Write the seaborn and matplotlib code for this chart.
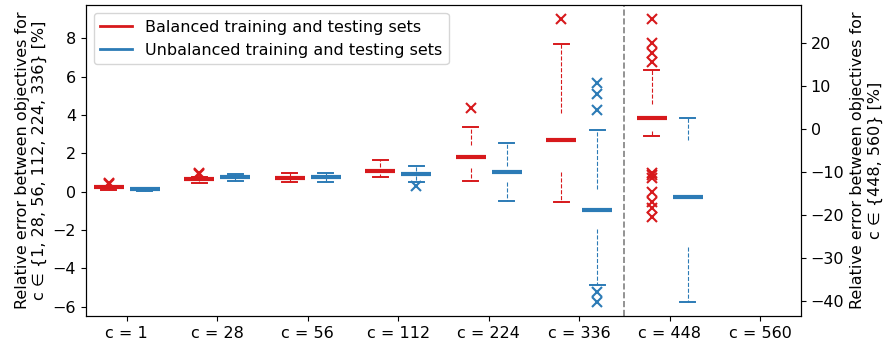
import numpy as np
import pandas as pd
import matplotlib
matplotlib.use("Agg")
import matplotlib.pyplot as plt
from matplotlib.lines import Line2D
import seaborn as sns

# ---------------- data ----------------
all_categories = ["c = 1", "c = 28", "c = 56", "c = 112", "c = 224", "c = 336", "c = 448", "c = 560"]
left_categories = ["c = 1", "c = 28", "c = 56", "c = 112", "c = 224", "c = 336"]
right_categories = ["c = 448"]

series_names = ["Balanced training and testing sets", "Unbalanced training and testing sets"]

# Balanced, left axis (c = 1 .. 336)
bal_left_whislo = [0.10, 0.45, 0.49, 0.75, 0.56, -0.52]
bal_left_q1 = [0.18, 0.57, 0.65, 0.92, 1.22, 1.04]
bal_left_med = [0.22, 0.65, 0.73, 1.06, 1.79, 2.70]
bal_left_q3 = [0.26, 0.71, 0.82, 1.30, 2.44, 4.09]
bal_left_whishi = [0.32, 0.78, 0.99, 1.67, 3.39, 7.72]
bal_left_fliers_lo = [[], [], [], [], [], []]
bal_left_fliers_hi = [[0.40, 0.43], [0.93, 0.96], [], [], [4.38], [8.99]]

# Unbalanced, left axis
unb_left_whislo = [0.06, 0.56, 0.49, 0.50, -0.49, -4.87]
unb_left_q1 = [0.10, 0.70, 0.70, 0.80, 0.52, -1.96]
unb_left_med = [0.13, 0.75, 0.77, 0.91, 1.01, -0.95]
unb_left_q3 = [0.16, 0.80, 0.85, 1.10, 1.36, 0.12]
unb_left_whishi = [0.20, 0.91, 0.96, 1.36, 2.52, 3.22]
unb_left_fliers_lo = [[], [], [], [0.30], [], [-5.25, -5.75]]
unb_left_fliers_hi = [[], [], [], [], [], [4.27, 5.10, 5.65]]

# Balanced, right axis (c = 448)
bal_right_whislo = [-1.5]
bal_right_q1 = [-0.5]
bal_right_med = [2.54]
bal_right_q3 = [5.8]
bal_right_whishi = [13.8]
bal_right_fliers_lo = [[-10.2, -10.7, -11.4, -14.6, -16.9, -18.4, -20.4]]
bal_right_fliers_hi = [[15.7, 17.7, 20.0, 25.6]]

# Unbalanced, right axis (c = 448)
unb_right_whislo = [-40.2]
unb_right_q1 = [-27.4]
unb_right_med = [-15.86]
unb_right_q3 = [-2.5]
unb_right_whishi = [2.54]
unb_right_fliers_lo = [[]]
unb_right_fliers_hi = [[]]

RED = "#d7191c"
BLUE = "#2c7bb6"


def samples_from_summary(lo, q1, med, q3, hi, flo, fhi):
    """Sample set whose box-plot statistics equal the read summary values."""
    a, b = len(flo), len(fhi)
    m = max(a, b) + 1
    vals = (list(flo) + [lo] + [q1] * (m - a) + [med] * m
            + [q3] * (2 * m - b - 1) + [hi] + list(fhi))
    return vals


def build_frame(cats, name, lo, q1, med, q3, hi, flo, fhi):
    rows = []
    for i, c in enumerate(cats):
        for v in samples_from_summary(lo[i], q1[i], med[i], q3[i], hi[i], flo[i], fhi[i]):
            rows.append({"cat": c, "series": name, "value": v})
    return rows


left_df = pd.DataFrame(
    build_frame(left_categories, series_names[0], bal_left_whislo, bal_left_q1, bal_left_med,
                bal_left_q3, bal_left_whishi, bal_left_fliers_lo, bal_left_fliers_hi)
    + build_frame(left_categories, series_names[1], unb_left_whislo, unb_left_q1, unb_left_med,
                  unb_left_q3, unb_left_whishi, unb_left_fliers_lo, unb_left_fliers_hi)
)
right_df = pd.DataFrame(
    build_frame(right_categories, series_names[0], bal_right_whislo, bal_right_q1, bal_right_med,
                bal_right_q3, bal_right_whishi, bal_right_fliers_lo, bal_right_fliers_hi)
    + build_frame(right_categories, series_names[1], unb_right_whislo, unb_right_q1, unb_right_med,
                  unb_right_q3, unb_right_whishi, unb_right_fliers_lo, unb_right_fliers_hi)
)

# ---------------- plotting ----------------
FS = 11.5
plt.rcParams["font.family"] = ["DejaVu Sans"]
plt.rcParams["font.size"] = FS

fig, ax = plt.subplots(figsize=(8.86, 3.45), dpi=100)
fig.subplots_adjust(left=0.097, right=0.904, top=0.985, bottom=0.084)
ax2 = ax.twinx()

box_kws = dict(
    x="cat", y="value", hue="series",
    order=all_categories, hue_order=series_names,
    palette=[RED, BLUE], fill=False, width=0.8, gap=0.175, dodge=True,
    whis=1.5, legend=False,
    boxprops=dict(visible=False),
    medianprops=dict(linewidth=3),
    whiskerprops=dict(linewidth=0.8, linestyle="--"),
    capprops=dict(linewidth=1.4),
    flierprops=dict(marker="x", markersize=7, markeredgewidth=1.5),
)

sns.boxplot(data=left_df, ax=ax, **box_kws)
sns.boxplot(data=right_df, ax=ax2, **box_kws)

ax.axvline(5.5, color="gray", linestyle="--", linewidth=1.2)

ax.set_xlim(-0.45, 7.45)
ax.set_xlabel("")
ax2.set_xlabel("")
ax.set_xticks(range(len(all_categories)))
ax.set_xticklabels(all_categories, fontsize=FS)
ax.tick_params(axis="y", labelsize=FS)
ax2.tick_params(axis="y", labelsize=FS)

ax.set_ylabel("Relative error between objectives for\nc \u2208 {1, 28, 56, 112, 224, 336} [%]", fontsize=FS)
ax2.set_ylabel("Relative error between objectives for\nc \u2208 {448, 560} [%]", fontsize=FS)

handles = [Line2D([0], [0], color=RED, linewidth=2),
           Line2D([0], [0], color=BLUE, linewidth=2)]
ax2.legend(handles, series_names, loc="upper left", fontsize=FS)

fig.savefig("out.png", dpi=100)
